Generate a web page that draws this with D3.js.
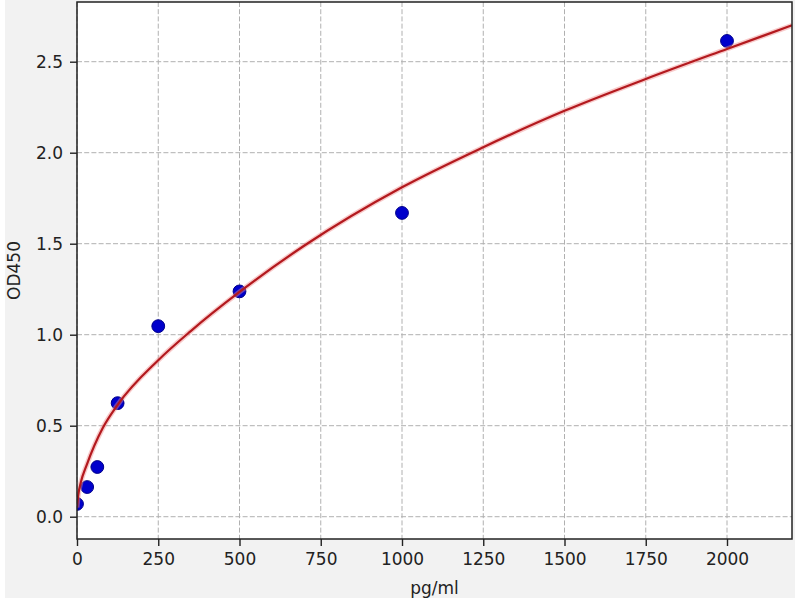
<!DOCTYPE html>
<html lang="en">
<head>
<meta charset="UTF-8">
<title>OD450 standard curve</title>
<script src="https://cdn.jsdelivr.net/npm/d3@7"></script>
<style>
  body { margin: 0; padding: 0; background: #ffffff; }
  svg { display: block; font-family: "DejaVu Sans", sans-serif; }
</style>
</head>
<body>
<div id="chart"></div>
<script>
// standards (pg/ml) and measured OD450
const concentrations = [0, 31.25, 62.5, 125, 250, 500, 1000, 2000];
const odValues = [0.07, 0.163, 0.273, 0.624, 1.047, 1.238, 1.669, 2.614];

// fitted curve
const curveX = [0, 4, 12, 30, 80, 125, 250, 350, 500, 700, 1000, 1250, 1500, 1750, 2000, 2200];
const curveY = [0.05, 0.12, 0.19, 0.285, 0.49, 0.615, 0.86, 1.02, 1.235, 1.49, 1.81, 2.03, 2.23, 2.405, 2.57, 2.70];

const xTicks = [0, 250, 500, 750, 1000, 1250, 1500, 1750, 2000];
const yTicks = [0.0, 0.5, 1.0, 1.5, 2.0, 2.5];

const width = 800, height = 600;
const plot = {left: 77, right: 792, top: 2, bottom: 539};

const svg = d3.select("#chart").append("svg")
    .attr("width", width)
    .attr("height", height);

// figure background
svg.append("rect")
    .attr("x", 5).attr("y", 0)
    .attr("width", 790).attr("height", 598)
    .attr("fill", "#f2f2f2");

svg.append("rect")
    .attr("x", plot.left).attr("y", plot.top)
    .attr("width", plot.right - plot.left).attr("height", plot.bottom - plot.top)
    .attr("fill", "#ffffff");

const x = d3.scaleLinear().domain([0, 2200]).range([plot.left, plot.right]);
const y = d3.scaleLinear().domain([-0.1225, 2.828]).range([plot.bottom, plot.top]);

// grid
const grid = svg.append("g")
    .attr("stroke", "#b0b0b0")
    .attr("stroke-width", 1)
    .attr("stroke-dasharray", "5,2.2");

grid.selectAll("line.gx").data(xTicks).join("line")
    .attr("class", "gx")
    .attr("x1", d => x(d)).attr("x2", d => x(d))
    .attr("y1", plot.top).attr("y2", plot.bottom);

grid.selectAll("line.gy").data(yTicks).join("line")
    .attr("class", "gy")
    .attr("x1", plot.left).attr("x2", plot.right)
    .attr("y1", d => y(d)).attr("y2", d => y(d));

// clip to the axes box
svg.append("clipPath").attr("id", "clip")
  .append("rect")
    .attr("x", plot.left).attr("y", plot.top)
    .attr("width", plot.right - plot.left).attr("height", plot.bottom - plot.top);

const inner = svg.append("g").attr("clip-path", "url(#clip)");

// standards
inner.selectAll("circle").data(concentrations).join("circle")
    .attr("cx", d => x(d))
    .attr("cy", (d, i) => y(odValues[i]))
    .attr("r", 6.4)
    .attr("fill", "#0000cc")
    .attr("stroke", "#00008a")
    .attr("stroke-width", 1);

// fitted curve with soft halo
const line = d3.line()
    .x(d => x(d[0]))
    .y(d => y(d[1]))
    .curve(d3.curveMonotoneX);
const curveData = curveX.map((v, i) => [v, curveY[i]]);

inner.append("path")
    .datum(curveData)
    .attr("d", line)
    .attr("fill", "none")
    .attr("stroke", "#f08a8a")
    .attr("stroke-opacity", 0.45)
    .attr("stroke-width", 5);

inner.append("path")
    .datum(curveData)
    .attr("d", line)
    .attr("fill", "none")
    .attr("stroke", "#b3191e")
    .attr("stroke-width", 2.2);

// axes
const xAxis = svg.append("g")
    .attr("transform", `translate(0,${plot.bottom})`)
    .call(d3.axisBottom(x).tickValues(xTicks).tickSize(7).tickPadding(7).tickFormat(d3.format("d")));

const yAxis = svg.append("g")
    .attr("transform", `translate(${plot.left},0)`)
    .call(d3.axisLeft(y).tickValues(yTicks).tickSize(7).tickPadding(7).tickFormat(d3.format(".1f")));

[xAxis, yAxis].forEach(a => {
    a.select(".domain").remove();
    a.selectAll(".tick line").attr("stroke", "#222").attr("stroke-width", 1.4);
    a.selectAll(".tick text")
        .attr("fill", "#222")
        .style("font-size", "17px")
        .style("font-family", "DejaVu Sans, sans-serif");
});

// frame
svg.append("rect")
    .attr("x", plot.left).attr("y", plot.top)
    .attr("width", plot.right - plot.left).attr("height", plot.bottom - plot.top)
    .attr("fill", "none")
    .attr("stroke", "#222")
    .attr("stroke-width", 1.5);

// axis titles
svg.append("text")
    .attr("x", (plot.left + plot.right) / 2)
    .attr("y", 594)
    .attr("text-anchor", "middle")
    .attr("fill", "#222")
    .style("font-size", "17px")
    .text("pg/ml");

svg.append("text")
    .attr("transform", `translate(19.5,${(plot.top + plot.bottom) / 2}) rotate(-90)`)
    .attr("text-anchor", "middle")
    .attr("fill", "#222")
    .style("font-size", "17px")
    .text("OD450");
</script>
</body>
</html>
